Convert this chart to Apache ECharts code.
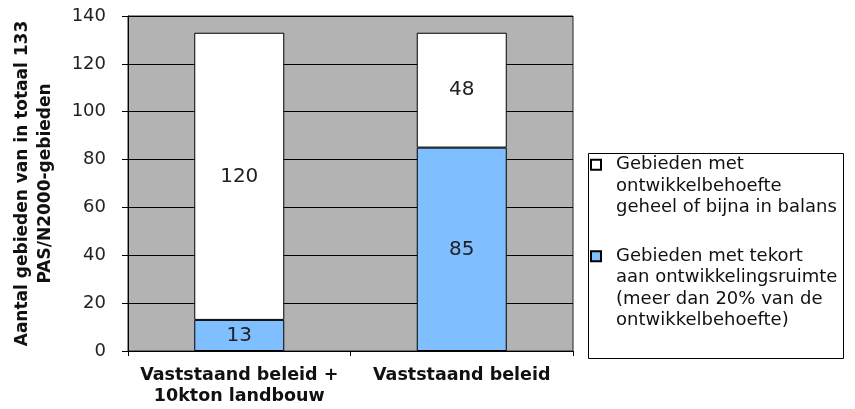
<!DOCTYPE html>
<html>
<head>
<meta charset="utf-8">
<script src="https://cdn.jsdelivr.net/npm/echarts@6/dist/echarts.min.js"></script>
<style>html,body{margin:0;padding:0;background:#fff}#c{width:855px;height:409px}</style>
</head>
<body>
<div id="c"></div>
<script>
var categories = ['Vaststaand beleid +\n10kton landbouw', 'Vaststaand beleid'];
var tekort = [13, 85];
var balans = [120, 48];
var yTicks = [0, 20, 40, 60, 80, 100, 120, 140];
var nameBalans = 'Gebieden met\nontwikkelbehoefte\ngeheel of bijna in balans';
var nameTekort = 'Gebieden met tekort\naan ontwikkelingsruimte\n(meer dan 20% van de\nontwikkelbehoefte)';
var yTitle = 'Aantal gebieden van in totaal 133\nPAS/N2000-gebieden';

var FONT = 'DejaVu Sans';
var chart = echarts.init(document.getElementById('c'));
var legendText = {fontFamily: FONT, fontSize: 18, color: '#111', lineHeight: 21.5, padding: [0, 0, 0, 10]};
chart.setOption({
  animation: false,
  backgroundColor: '#fff',
  graphic: [{
    type: 'rect', left: 588, top: 153, z: 0,
    shape: {width: 255, height: 205},
    style: {fill: '#fff', stroke: '#000', lineWidth: 1}
  }],
  legend: [{
    data: [nameBalans], left: 590, top: 111, padding: 0, orient: 'vertical',
    icon: 'rect', itemWidth: 10, itemHeight: 10, selectedMode: false,
    textStyle: legendText,
    formatter: function (n) { return '\n\n' + n; }
  }, {
    data: [nameTekort], left: 590, top: 181, padding: 0, orient: 'vertical',
    icon: 'rect', itemWidth: 10, itemHeight: 10, selectedMode: false,
    textStyle: legendText,
    formatter: function (n) { return '\n\n\n' + n; }
  }],
  grid: {left: 128, right: 282, top: 16, bottom: 58, show: true, containLabel: false,
    outerBoundsMode: 'none',
    backgroundColor: '#b3b3b3', borderColor: '#222', borderWidth: 1},
  xAxis: {
    type: 'category', data: categories,
    axisLine: {lineStyle: {color: '#000', width: 1}},
    axisTick: {show: true, length: 5, lineStyle: {color: '#000'}},
    axisLabel: {fontFamily: FONT, fontSize: 17.5, fontWeight: 'bold', color: '#111',
      lineHeight: 21, margin: 14, interval: 0, hideOverlap: false}
  },
  yAxis: {
    type: 'value', min: yTicks[0], max: yTicks[yTicks.length - 1], interval: 20,
    name: yTitle, nameLocation: 'middle', nameRotate: 90, nameGap: 71,
    nameTextStyle: {fontFamily: FONT, fontSize: 17, fontWeight: 'bold', color: '#111', lineHeight: 23},
    axisLine: {show: true, lineStyle: {color: '#000', width: 1}},
    axisTick: {show: true, length: 6, lineStyle: {color: '#000'}},
    splitLine: {show: true, lineStyle: {color: '#000', width: 1}},
    axisLabel: {fontFamily: FONT, fontSize: 18, color: '#222', margin: 22}
  },
  series: [{
    name: nameTekort, type: 'bar', stack: 's', data: tekort, barWidth: 90,
    itemStyle: {color: '#80bfff', borderColor: '#000', borderWidth: 1},
    label: {show: true, position: 'inside', fontFamily: FONT, fontSize: 20, color: '#222'}
  }, {
    name: nameBalans, type: 'bar', stack: 's', data: balans, barWidth: 90,
    itemStyle: {color: '#ffffff', borderColor: '#000', borderWidth: 1},
    label: {show: true, position: 'inside', fontFamily: FONT, fontSize: 20, color: '#222'}
  }]
});
</script>
</body>
</html>
